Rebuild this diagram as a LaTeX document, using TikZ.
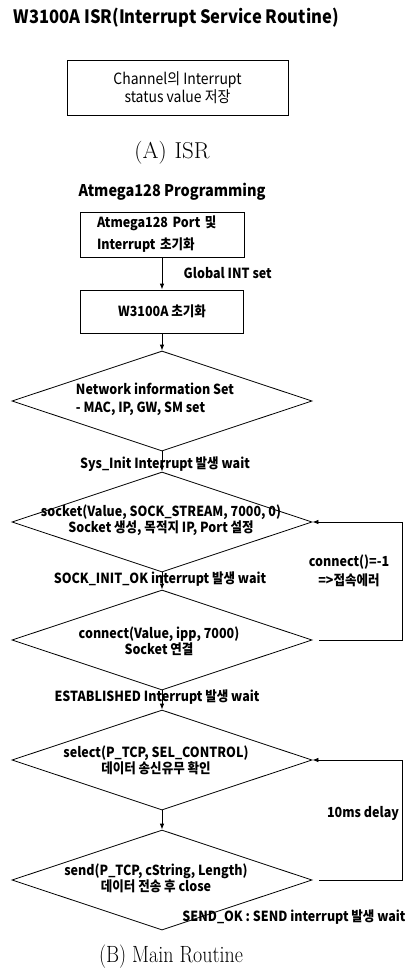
\documentclass[tikz,border=0pt]{standalone}
\usepackage{fontspec}
\newfontfamily\kr[FakeStretch=0.9]{Noto Sans CJK KR}
\newfontfamily\capfont[FakeStretch=0.85]{Latin Modern Roman}
\usetikzlibrary{shapes.geometric,arrows.meta}
\begin{document}
\begin{tikzpicture}[x=1pt,y=-1pt,line width=0.8pt,
  lbl/.style={font=\kr\bfseries\fontsize{13.9}{13}\selectfont},
  box/.style={draw,inner sep=0pt},
  rombo/.style={draw,diamond,inner sep=0pt,minimum width=300pt,minimum height=100pt},
  arr/.style={-{Latex[length=6pt,width=4.5pt]}}]
\useasboundingbox (0,0) rectangle (411,977);

\node[anchor=west,font=\kr\bfseries\fontsize{18.4}{20}\selectfont] (isrtitle) at (10,18) {W3100A ISR(Interrupt Service Routine)};
\node[box,minimum width=221pt,minimum height=55pt,align=center,font=\kr\fontsize{15.5}{18.5}\selectfont] (isr) at (177.5,87.5) {Channel의 Interrupt\\status value 저장};
\node[font=\fontsize{23}{26}\selectfont] (capa) at (172,153) {(A)\hspace{8pt}ISR};

\node[font=\kr\bfseries\fontsize{16.1}{18}\selectfont] (progtitle) at (172,192) {Atmega128 Programming};
\node[box,lbl,minimum width=164pt,minimum height=45pt,text width=130pt,align=left] (port) at (162,234.5) {Atmega128 Port 및\\[6pt]Interrupt 초기화};
\node[lbl,anchor=west] (gint) at (180,273) {Global INT set};
\node[box,lbl,minimum width=163pt,minimum height=43pt] (w3100) at (162,311.5) {W3100A 초기화};

\node[rombo] (net) at (162,401) {};
\node[lbl,align=left] (nettxt) at (155,399) {Network information Set\\[5pt]- MAC, IP, GW, SM set};
\node[lbl] (sysinit) at (165,464) {Sys\_Init Interrupt 발생 wait};

\node[rombo] (sock) at (162,522) {};
\node[lbl,align=center] (socktxt) at (161,520) {socket(Value, SOCK\_STREAM, 7000, 0)\\Socket 생성, 목적지 IP, Port 설정};
\node[lbl] (sockok) at (160,579) {SOCK\_INIT\_OK interrupt 발생 wait};

\node[rombo] (conn) at (162,640) {};
\node[lbl,align=center] (conntxt) at (159,641) {connect(Value, ipp, 7000)\\Socket 연결};
\node[lbl] (estab) at (157,697) {ESTABLISHED Interrupt 발생 wait};

\node[rombo] (sel) at (162,760) {};
\node[lbl,align=center] (seltxt) at (156,760) {select(P\_TCP, SEL\_CONTROL)\\데이터 송신유무 확인};

\node[rombo] (send) at (162,880) {};
\node[lbl,align=center] (sendtxt) at (156,878) {send(P\_TCP, cString, Length)\\데이터 전송 후 close};
\node[lbl] (sendok) at (294,917) {SEND\_OK : SEND interrupt 발생 wait};

\node[lbl,align=center] (connerr) at (349,571) {connect()=-1\\[4pt]=>접속에러};
\node[lbl] (delay) at (363,813) {10ms delay};
\node[font=\capfont\fontsize{23.5}{26}\selectfont] (capb) at (171,957) {(B) Main Routine};

\coordinate (loopx) at (402,0);
\draw[arr] (port) -- (w3100);
\draw[arr] (w3100) -- (net);
\draw[arr] (net) -- (sock);
\draw[arr] (sock) -- (conn);
\draw[arr] (conn) -- (sel);
\draw[arr] (sel) -- (send);
\draw[arr] ([xshift=7pt]conn.east) -| (loopx |- sock.east) -- (sock.east);
\draw[arr] ([xshift=7pt]send.east) -| (loopx |- sel.east) -- (sel.east);
\end{tikzpicture}
\end{document}
